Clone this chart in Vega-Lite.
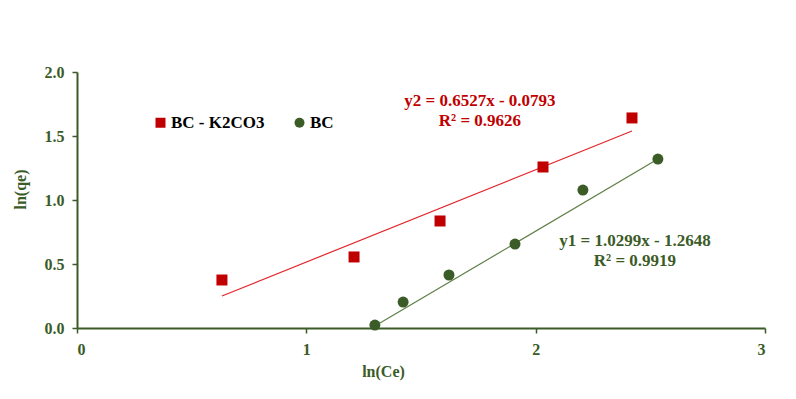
{
  "$schema": "https://vega.github.io/schema/vega-lite/v6.json",
  "width": 688,
  "height": 256,
  "autosize": "none",
  "padding": {"left": 77, "top": 72, "right": 31, "bottom": 71},
  "background": "white",
  "config": {
    "view": {"stroke": null},
    "font": "Liberation Serif"
  },
  "datasets": {
    "points": [
      {"series": "BC - K2CO3", "lnCe": 0.632, "lnqe": 0.375},
      {"series": "BC - K2CO3", "lnCe": 1.208, "lnqe": 0.555},
      {"series": "BC - K2CO3", "lnCe": 1.583, "lnqe": 0.836},
      {"series": "BC - K2CO3", "lnCe": 2.032, "lnqe": 1.258},
      {"series": "BC - K2CO3", "lnCe": 2.420, "lnqe": 1.641},
      {"series": "BC", "lnCe": 1.299, "lnqe": 0.023},
      {"series": "BC", "lnCe": 1.422, "lnqe": 0.203},
      {"series": "BC", "lnCe": 1.622, "lnqe": 0.414},
      {"series": "BC", "lnCe": 1.910, "lnqe": 0.656},
      {"series": "BC", "lnCe": 2.206, "lnqe": 1.078},
      {"series": "BC", "lnCe": 2.533, "lnqe": 1.320}
    ],
    "trend": [
      {"series": "BC - K2CO3", "lnCe": 0.632, "lnqe": 0.25},
      {"series": "BC - K2CO3", "lnCe": 2.420, "lnqe": 1.539},
      {"series": "BC", "lnCe": 1.299, "lnqe": 0.015},
      {"series": "BC", "lnCe": 2.533, "lnqe": 1.320}
    ],
    "labels": [
      {"series": "BC - K2CO3", "lnCe": 1.757, "lnqe": 1.773, "text": "y2 = 0.6527x - 0.0793"},
      {"series": "BC - K2CO3", "lnCe": 1.757, "lnqe": 1.617, "text": "R² = 0.9626"},
      {"series": "BC", "lnCe": 2.433, "lnqe": 0.680, "text": "y1 = 1.0299x - 1.2648"},
      {"series": "BC", "lnCe": 2.433, "lnqe": 0.523, "text": "R² = 0.9919"}
    ]
  },
  "encoding": {
    "x": {
      "field": "lnCe", "type": "quantitative",
      "scale": {"domain": [0, 3], "nice": false, "zero": false},
      "axis": {
        "title": "ln(Ce)", "values": [0, 1, 2, 3], "format": "d", "grid": false,
        "domainColor": "#3B5B27", "domainWidth": 2, "tickColor": "#3B5B27", "tickWidth": 1.5, "tickSize": 5,
        "labelFont": "Liberation Serif", "labelFontSize": 16, "labelFontWeight": "bold", "labelColor": "#3B5B27", "labelPadding": 8,
        "titleFont": "Liberation Serif", "titleFontSize": 16, "titleFontWeight": "bold", "titleColor": "#3B5B27",
        "titleX": 306, "titleY": 43, "titleAlign": "center", "titleBaseline": "middle"
      }
    },
    "y": {
      "field": "lnqe", "type": "quantitative",
      "scale": {"domain": [0, 2], "nice": false, "zero": false},
      "axis": {
        "title": "ln(qe)", "values": [0, 0.5, 1, 1.5, 2], "format": ".1f", "grid": false,
        "domainColor": "#3B5B27", "domainWidth": 2, "tickColor": "#3B5B27", "tickWidth": 1.5, "tickSize": 5,
        "labelFont": "Liberation Serif", "labelFontSize": 16, "labelFontWeight": "bold", "labelColor": "#3B5B27", "labelPadding": 8,
        "titleFont": "Liberation Serif", "titleFontSize": 16, "titleFontWeight": "bold", "titleColor": "#3B5B27",
        "titleX": -57, "titleY": 117, "titleAlign": "center", "titleBaseline": "middle", "titleAngle": -90
      }
    }
  },
  "layer": [
    {
      "data": {"name": "trend"},
      "transform": [{"filter": "datum.series === 'BC - K2CO3'"}],
      "mark": {"type": "line", "color": "#E3262B", "strokeWidth": 1.2},
      "encoding": {}
    },
    {
      "data": {"name": "trend"},
      "transform": [{"filter": "datum.series === 'BC'"}],
      "mark": {"type": "line", "color": "#5F7F47", "strokeWidth": 1.2},
      "encoding": {}
    },
    {
      "data": {"name": "points"},
      "mark": {"type": "point", "filled": true, "opacity": 1, "size": 121},
      "encoding": {
        "color": {
          "field": "series", "type": "nominal",
          "scale": {"domain": ["BC - K2CO3", "BC"], "range": ["#C00000", "#3B5B27"]},
          "legend": {
            "title": null, "orient": "none", "direction": "horizontal",
            "legendX": 75, "legendY": 42, "padding": 0,
            "symbolSize": 100, "labelOffset": 2, "columnPadding": 26,
            "labelFont": "Liberation Serif", "labelFontSize": 17, "labelFontWeight": "bold", "labelColor": "black"
          }
        },
        "shape": {
          "field": "series", "type": "nominal",
          "scale": {"domain": ["BC - K2CO3", "BC"], "range": ["square", "circle"]}
        }
      }
    },
    {
      "data": {"name": "labels"},
      "transform": [{"filter": "datum.series === 'BC - K2CO3'"}],
      "mark": {"type": "text", "color": "#C00000", "font": "Liberation Serif", "fontSize": 17, "fontWeight": "bold", "align": "center", "baseline": "middle"},
      "encoding": {"text": {"field": "text"}}
    },
    {
      "data": {"name": "labels"},
      "transform": [{"filter": "datum.series === 'BC'"}],
      "mark": {"type": "text", "color": "#3B5B27", "font": "Liberation Serif", "fontSize": 17, "fontWeight": "bold", "align": "center", "baseline": "middle"},
      "encoding": {"text": {"field": "text"}}
    }
  ]
}
